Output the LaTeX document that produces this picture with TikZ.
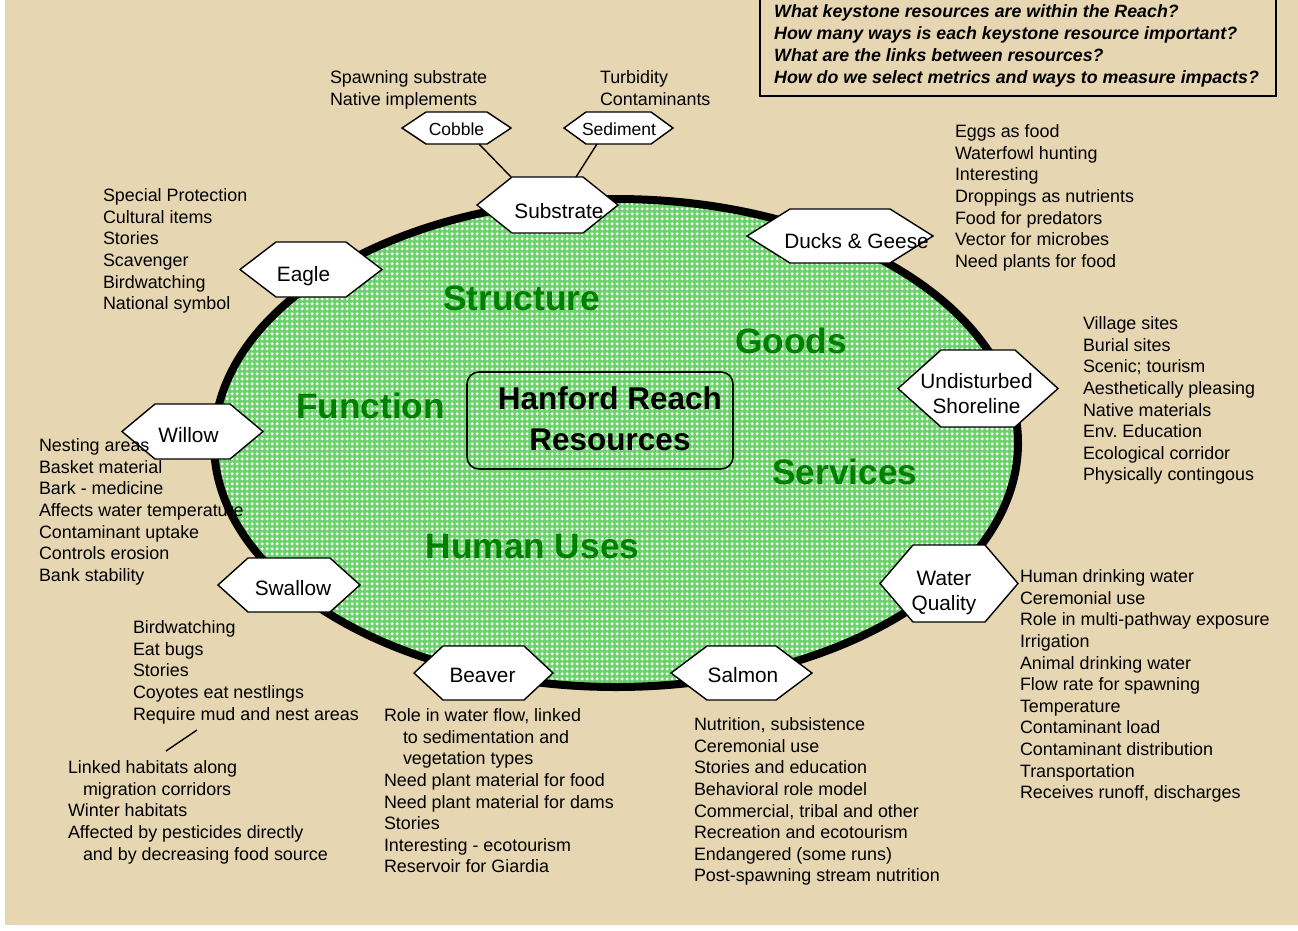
\documentclass[tikz,border=0pt]{standalone}
\usepackage{fontspec}
\setmainfont{Liberation Sans}
\usetikzlibrary{patterns,shapes.geometric}
\definecolor{parch}{RGB}{230,214,178}
\definecolor{egreen}{RGB}{105,210,105}
\definecolor{dgreen}{RGB}{0,128,0}
\pgfdeclarepatternformonly{wdiam}{\pgfqpoint{0pt}{0pt}}{\pgfqpoint{5pt}{5pt}}{\pgfqpoint{5pt}{5pt}}{%
  \pgfpathmoveto{\pgfqpoint{2.5pt}{0.5pt}}%
  \pgfpathlineto{\pgfqpoint{4.5pt}{2.5pt}}%
  \pgfpathlineto{\pgfqpoint{2.5pt}{4.5pt}}%
  \pgfpathlineto{\pgfqpoint{0.5pt}{2.5pt}}%
  \pgfpathclose\pgfusepath{fill}}
\newcommand{\fList}{\fontsize{17.9}{21.65}\selectfont}
\newcommand{\fHex}{\fontsize{20.8}{25}\selectfont}
\newcommand{\fSmallHex}{\fontsize{17.5}{21}\selectfont}
\newcommand{\fBig}{\fontsize{35.3}{40}\selectfont\bfseries}
\newcommand{\fCen}{\fontsize{31.5}{41}\selectfont\bfseries}
\newcommand{\fQ}{\fontsize{17.8}{22}\selectfont\bfseries\itshape}
\newcommand{\sA}{\rule{0pt}{15pt}}
\newcommand{\sH}{\rule{0pt}{17pt}}
\newcommand{\sC}{\rule{0pt}{28pt}}
\newcommand{\ind}{\hspace*{15pt}}
% hexagon: name, cx, cy, width, height, inset
\newcommand{\hexa}[6]{%
  \node[hexb, minimum width={#4-2*#6}, minimum height=#5] (#1) at (#2,#3) {};
  \draw[hexline] (#1.north west) -- (#1.north east) -- ([xshift=#6]#1.east)
     -- (#1.south east) -- (#1.south west) -- ([xshift=-#6]#1.west) -- cycle;}
\frenchspacing
\begin{document}
\begin{tikzpicture}[x=1pt,y=-1pt,
  hexb/.style={shape=rectangle, inner sep=0pt, outer sep=0pt, draw=none},
  hexline/.style={draw=black, line width=1.4pt, fill=white, line join=miter},
  hext/.style={font=\fHex, align=center, anchor=north, inner sep=0pt},
  shext/.style={font=\fSmallHex, align=center, anchor=north, inner sep=0pt},
  lst/.style={font=\fList, align=left, anchor=north west, inner sep=0pt, outer sep=0pt},
  big/.style={font=\fBig, text=dgreen, inner sep=0pt},
  conn/.style={draw=black, line width=1.4pt}]
\useasboundingbox (0,0) rectangle (1298,930);
\fill[white] (0,0) rectangle (1298,930);
\fill[parch] (5,0) rectangle (1298,925);

% questions box
\draw[line width=2pt] (760,-5) rectangle (1276,96);
\node[font=\fQ, align=left, anchor=north west, inner sep=0pt] (q) at (774,2.4)
 {\sA What keystone resources are within the Reach?\\
  How many ways is each keystone resource important?\\
  What are the links between resources?\\
  How do we select metrics and ways to measure impacts?};

% central ellipse
\node[ellipse, draw=black, line width=8pt, minimum width=804pt, minimum height=488pt,
  inner sep=0pt, preaction={fill=egreen}, pattern=wdiam, pattern color=white]
  (reach) at (616,443) {};

% central box
\node[draw=black, line width=1.6pt, rounded corners=12pt, minimum width=266pt,
  minimum height=97pt, inner sep=0pt] (box) at (600,420.5) {};
\node[font=\fCen, align=center, anchor=north, inner sep=0pt] (hr) at (610,381)
 {\sC Hanford Reach\\Resources};

% green labels
\node[big] (structure) at (521.5,298) {Structure};
\node[big] (goods) at (791,341) {Goods};
\node[big] (function) at (370.5,406) {Function};
\node[big] (services) at (845,472) {Services};
\node[big] (human) at (532.5,547) {Human Uses};

% hexagons
\hexa{sub}{547.5}{205}{141}{56}{35}
\hexa{eagle}{311}{269.5}{142}{55}{36}
\hexa{ducks}{840}{236}{186}{54}{43}
\hexa{shore}{978}{388.5}{160}{77}{43}
\hexa{willow}{192.5}{431.5}{141}{55}{33}
\hexa{water}{949}{583.5}{138}{77}{33}
\hexa{swallow}{289}{585}{142}{54}{30}
\hexa{beaver}{483.5}{673}{139}{54}{29}
\hexa{salmon}{741.5}{673}{141}{54}{36}
\hexa{cobble}{456.5}{128}{109}{32}{24}
\hexa{sed}{618.5}{128}{109}{32}{22}

% connectors
\draw[conn] ([xshift=-8]cobble.south east) -- ([xshift=-1]sub.north west);
\draw[conn] ([xshift=11]sed.south west) -- ([xshift=-7]sub.north east);

% hexagon labels
\node[hext] (sub-t) at (559,201) {\sH Substrate};
\node[hext] (eagle-t) at (303.5,264) {\sH Eagle};
\node[hext] (ducks-t) at (856.5,231) {\sH Ducks \& Geese};
\node[hext] (shore-t) at (976.5,371) {\sH Undisturbed\\Shoreline};
\node[hext] (willow-t) at (188.5,425) {\sH Willow};
\node[hext] (water-t) at (944,568) {\sH Water\\Quality};
\node[hext] (swallow-t) at (293,578) {\sH Swallow};
\node[hext] (beaver-t) at (482.5,665) {\sH Beaver};
\node[hext] (salmon-t) at (743,665) {\sH Salmon};
\node[shext] (cobble-t) at (456.5,118) {\sH Cobble};
\node[shext] (sed-t) at (619,118) {\sH Sediment};

% lists
\node[lst] (spawnL) at (330,68.4) {\sA Spawning substrate\\Native implements};
\node[lst] (turbL) at (600,68.4) {\sA Turbidity\\Contaminants};
\node[lst] (ducksL) at (955,122.4) {\sA Eggs as food\\Waterfowl hunting\\Interesting\\Droppings as nutrients\\Food for predators\\Vector for microbes\\Need plants for food};
\node[lst] (eagleL) at (103,186.4) {\sA Special Protection\\Cultural items\\Stories\\Scavenger\\Birdwatching\\National symbol};
\node[lst] (shoreL) at (1083,314.4) {\sA Village sites\\Burial sites\\Scenic; tourism\\Aesthetically pleasing\\Native materials\\Env. Education\\Ecological corridor\\Physically contingous};
\node[lst] (willowL) at (39,436.4) {\sA Nesting areas\\Basket material\\Bark - medicine\\Affects water temperature\\Contaminant uptake\\Controls erosion\\Bank stability};
\node[lst] (swallowL) at (133,618.4) {\sA Birdwatching\\Eat bugs\\Stories\\Coyotes eat nestlings\\Require mud and nest areas};
\node[lst] (habL) at (68,758.4) {\sA Linked habitats along\\\ind migration corridors\\Winter habitats\\Affected by pesticides directly\\\ind and by decreasing food source};
\coordinate (tickA) at (166,751);
\coordinate (tickB) at (197,730);
\draw[conn] (tickA) -- (tickB);
\node[lst] (beaverL) at (384,706.4) {\sA Role in water flow, linked\\\hspace*{19pt}to sedimentation and\\\hspace*{19pt}vegetation types\\Need plant material for food\\Need plant material for dams\\Stories\\Interesting - ecotourism\\Reservoir for Giardia};
\node[lst] (salmonL) at (694,715.4) {\sA Nutrition, subsistence\\Ceremonial use\\Stories and education\\Behavioral role model\\Commercial, tribal and other\\Recreation and ecotourism\\Endangered (some runs)\\Post-spawning stream nutrition};
\node[lst] (waterL) at (1020,567.4) {\sA Human drinking water\\Ceremonial use\\Role in multi-pathway exposure\\Irrigation\\Animal drinking water\\Flow rate for spawning\\Temperature\\Contaminant load\\Contaminant distribution\\Transportation\\Receives runoff, discharges};
\end{tikzpicture}
\end{document}
